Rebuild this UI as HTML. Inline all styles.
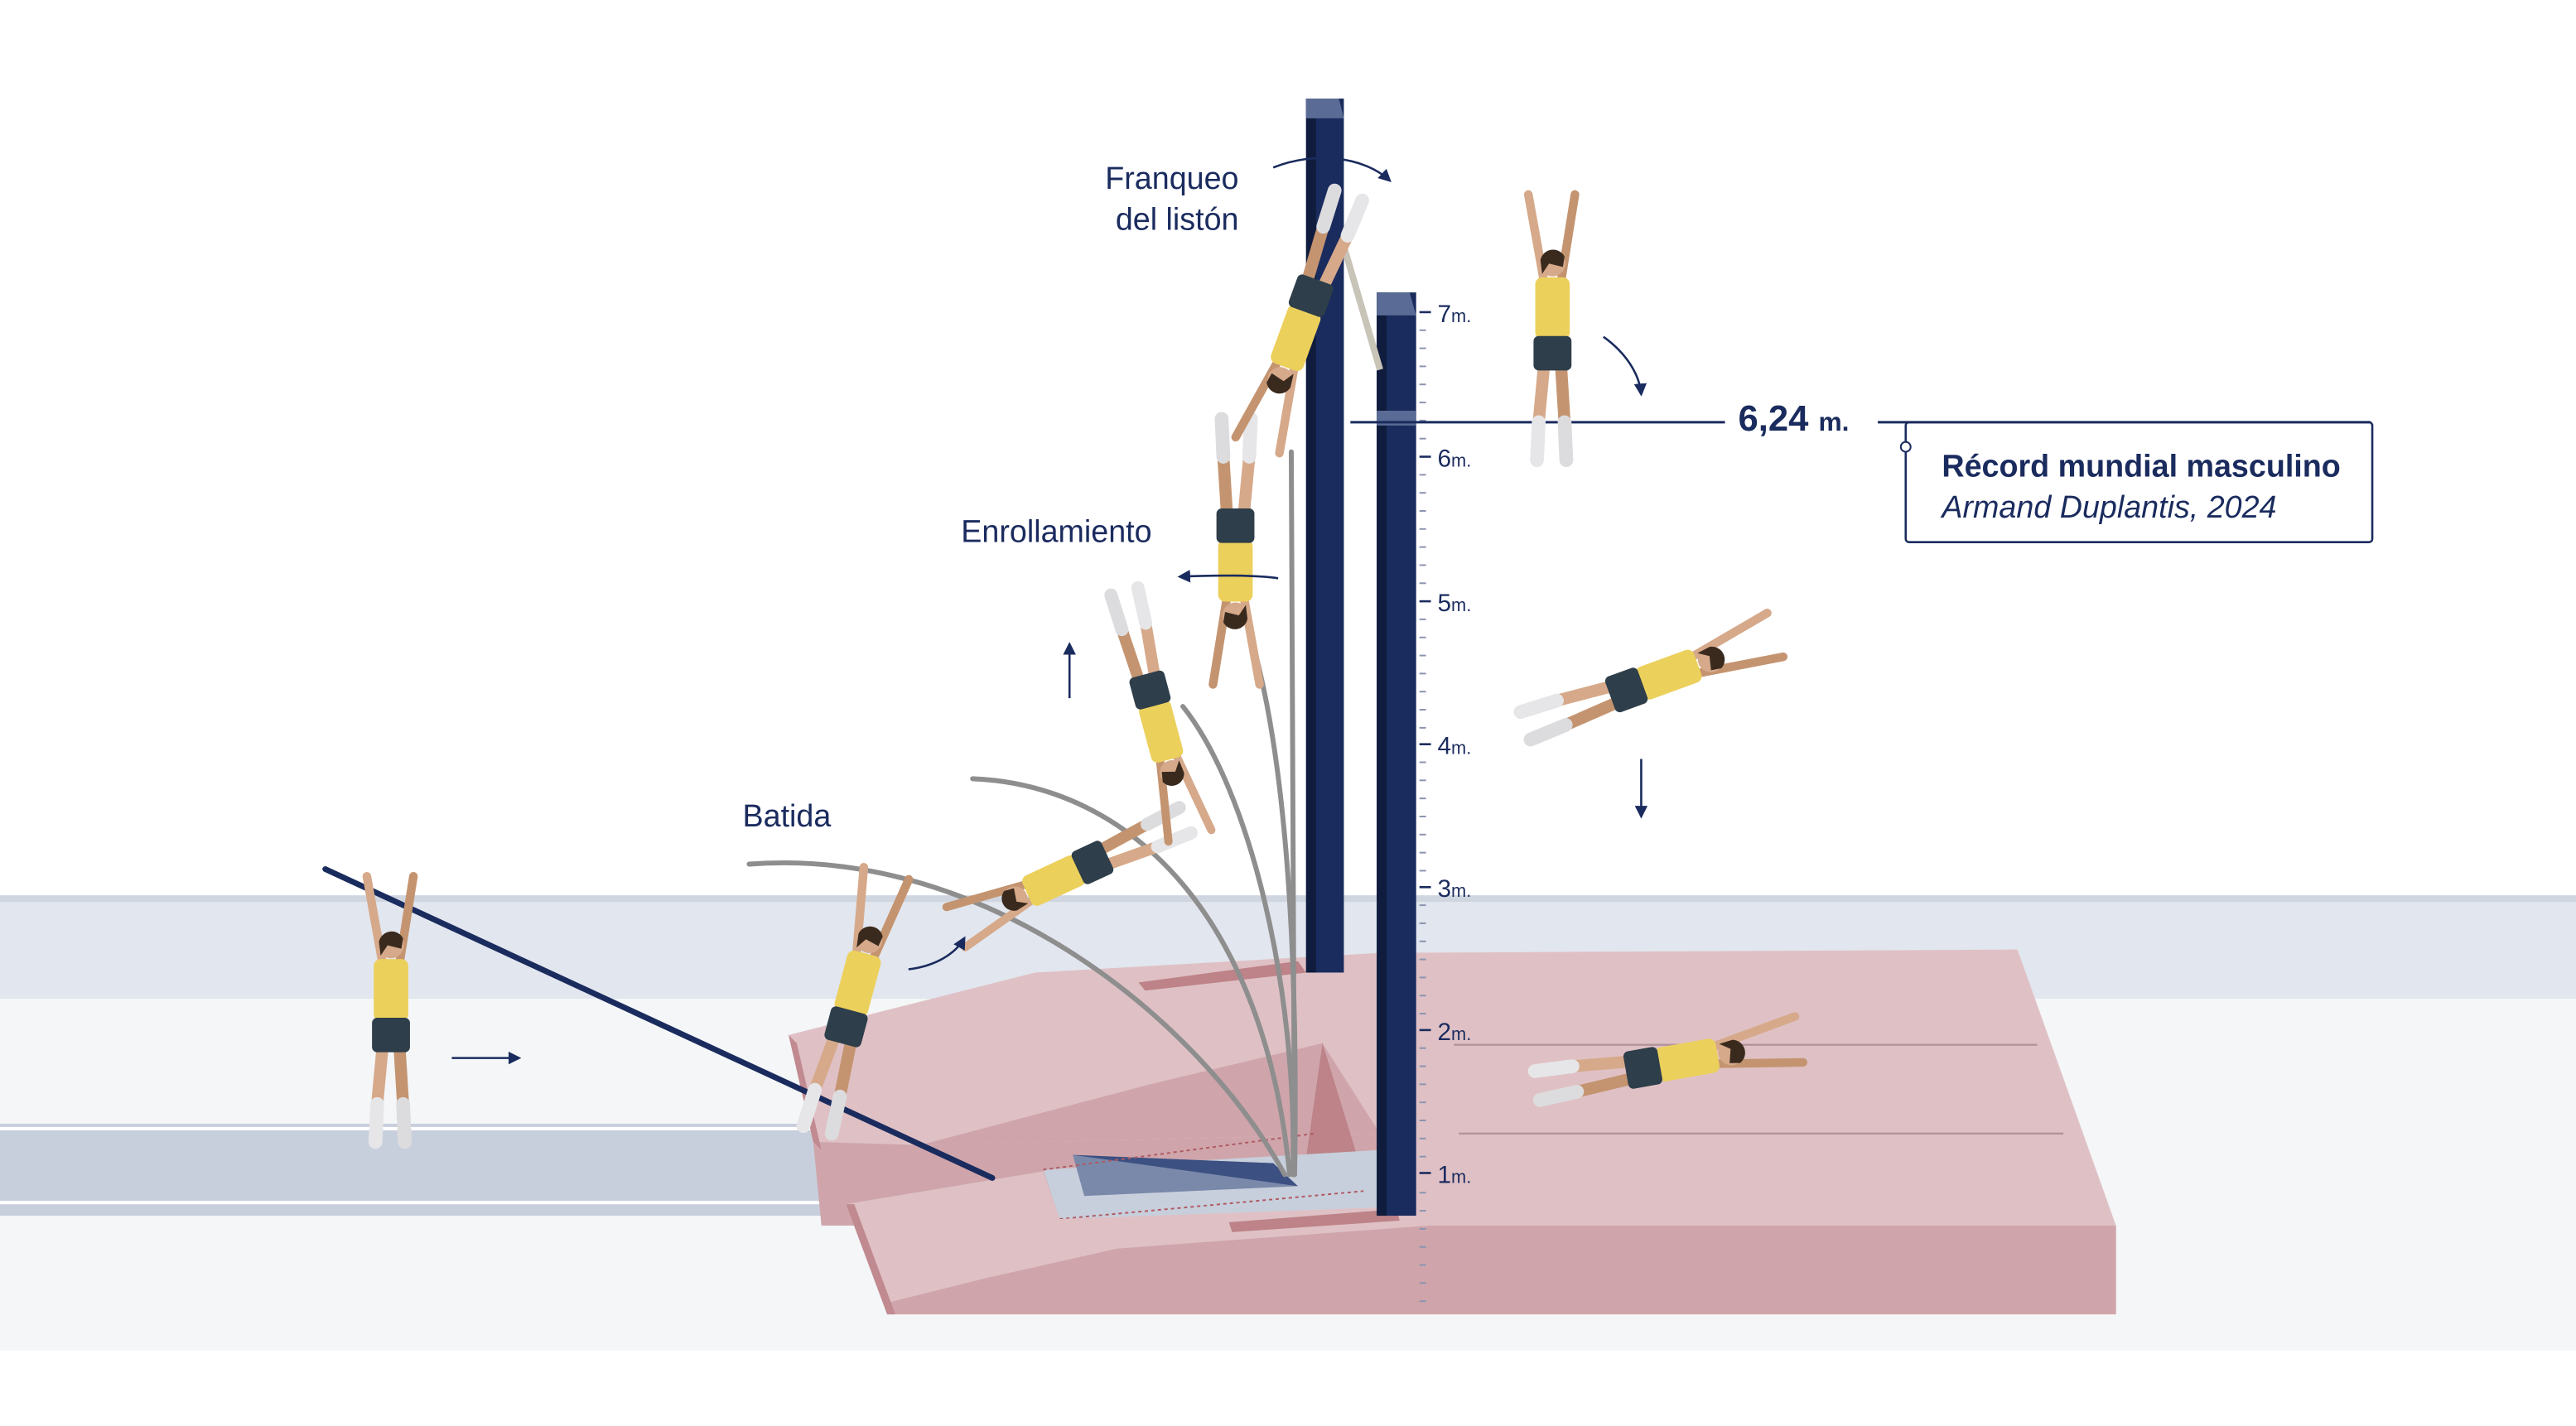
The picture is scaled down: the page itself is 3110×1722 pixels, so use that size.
<!DOCTYPE html>
<html><head><meta charset="utf-8"><style>
html,body{margin:0;padding:0;background:#fff;}
svg{display:block;}
text{font-family:"Liberation Sans",sans-serif;}
</style></head><body>
<svg width="3110" height="1722" viewBox="0 0 1568 868" preserveAspectRatio="none" xmlns="http://www.w3.org/2000/svg">
<defs>
<g id="fig">
  <line x1="-5" y1="-42" x2="-14" y2="-92" stroke="#d6a98a" stroke-width="5" stroke-linecap="round"/>
  <line x1="5" y1="-42" x2="13" y2="-92" stroke="#c49470" stroke-width="5" stroke-linecap="round"/>
  <line x1="-5" y1="8" x2="-8" y2="40" stroke="#d6a98a" stroke-width="7" stroke-linecap="round"/>
  <line x1="5" y1="8" x2="7" y2="40" stroke="#c49470" stroke-width="7" stroke-linecap="round"/>
  <line x1="-8" y1="40" x2="-9" y2="62" stroke="#e6e6e8" stroke-width="8" stroke-linecap="round"/>
  <line x1="7" y1="40" x2="8" y2="62" stroke="#dcdcde" stroke-width="8" stroke-linecap="round"/>
  <rect x="-10" y="-44" width="20" height="36" rx="4" fill="#ecd05c"/>
  <rect x="-11" y="-10" width="22" height="20" rx="3" fill="#2e3e4a"/>
  <circle cx="0" cy="-52" r="7.5" fill="#d6a98a"/>
  <path d="M-7,-54 A7.5,7.5 0 0 1 7,-56 L6,-50 L-2,-52 L-6,-46 Z" fill="#3a2a1e"/>
</g>
<marker id="ah" markerWidth="6" markerHeight="6" refX="5" refY="3" orient="auto"><path d="M0,0 L6,3 L0,6 Z" fill="#1a2b5e"/></marker>
</defs>

<rect x="0" y="545" width="1568" height="63" fill="#e2e6ee"/>
<rect x="0" y="545" width="1568" height="4" fill="#d0d6e0"/>
<rect x="0" y="608" width="1568" height="214" fill="#f4f6f8"/>
<rect x="0" y="684" width="650" height="56" fill="#c8cfdc"/>
<rect x="0" y="686" width="650" height="2" fill="#ffffff"/>
<rect x="0" y="731" width="650" height="2" fill="#ffffff"/>

<polygon points="480,630 630,592 840,580 1228,578 1288,746 840,746 840,690 560,697 495,695" fill="#dfc1c5"/>
<polygon points="495,695 560,697 840,690 840,746 500,746" fill="#cfa5ab"/>
<polygon points="560,697 700,660 805,635 840,690" fill="#cfa5ab"/>
<polygon points="480,630 495,695 500,700 485,635" fill="#c08a90"/>
<polygon points="805,635 825,700 840,746 790,740" fill="#bd8388"/>
<polygon points="693,598 790,585 795,592 697,603" fill="#bd8388"/>
<polygon points="635,712 840,700 840,740 645,742" fill="#c8cfdc"/>
<polygon points="653,703 775,708 790,722 660,728" fill="#7a89aa"/>
<polygon points="653,703 790,722 775,708" fill="#3c5082"/>
<polyline points="635,712 800,690" fill="none" stroke="#b05a62" stroke-width="1" stroke-dasharray="2,2"/>
<polyline points="645,742 830,725" fill="none" stroke="#b05a62" stroke-width="1" stroke-dasharray="2,2"/>
<polygon points="515,733 635,713 645,742 840,735 882,734 882,746 1288,746 1288,800 540,800" fill="#dfc1c5"/>
<polygon points="540,800 540,793 600,778 680,760 870,746 1288,746 1288,800" fill="#cfa5ab"/>
<polygon points="515,733 540,800 545,800 520,733" fill="#c08a90"/>
<polygon points="748,744 850,736 852,743 750,750" fill="#bd8388"/>
<line x1="885" y1="636" x2="1240" y2="636" stroke="#b0949a" stroke-width="1.2"/>
<line x1="888" y1="690" x2="1256" y2="690" stroke="#b0949a" stroke-width="1.2"/>

<rect x="795" y="60" width="23" height="532" fill="#1a2b5e"/>
<rect x="795" y="60" width="6" height="532" fill="#0f1c3d"/>
<polygon points="795,60 815,60 818,72 795,72" fill="#5a6b95"/>
<rect x="838" y="178" width="24" height="562" fill="#1a2b5e"/>
<rect x="838" y="178" width="6" height="562" fill="#0f1c3d"/>
<polygon points="838,178 858,178 862,192 838,192" fill="#5a6b95"/>
<rect x="838" y="250" width="24" height="9" fill="#5a6b95"/>

<g stroke="#8a94b0" stroke-width="1">
<line x1="864" y1="201" x2="868" y2="201"/><line x1="864" y1="212" x2="868" y2="212"/><line x1="864" y1="223" x2="868" y2="223"/><line x1="864" y1="234" x2="868" y2="234"/><line x1="864" y1="245" x2="868" y2="245"/><line x1="864" y1="256" x2="868" y2="256"/><line x1="864" y1="267" x2="868" y2="267"/>
<line x1="864" y1="289" x2="868" y2="289"/><line x1="864" y1="300" x2="868" y2="300"/><line x1="864" y1="311" x2="868" y2="311"/><line x1="864" y1="322" x2="868" y2="322"/><line x1="864" y1="333" x2="868" y2="333"/><line x1="864" y1="344" x2="868" y2="344"/><line x1="864" y1="355" x2="868" y2="355"/>
<line x1="864" y1="377" x2="868" y2="377"/><line x1="864" y1="388" x2="868" y2="388"/><line x1="864" y1="399" x2="868" y2="399"/><line x1="864" y1="410" x2="868" y2="410"/><line x1="864" y1="421" x2="868" y2="421"/><line x1="864" y1="432" x2="868" y2="432"/><line x1="864" y1="443" x2="868" y2="443"/>
<line x1="864" y1="464" x2="868" y2="464"/><line x1="864" y1="475" x2="868" y2="475"/><line x1="864" y1="486" x2="868" y2="486"/><line x1="864" y1="497" x2="868" y2="497"/><line x1="864" y1="508" x2="868" y2="508"/><line x1="864" y1="519" x2="868" y2="519"/><line x1="864" y1="530" x2="868" y2="530"/>
<line x1="864" y1="551" x2="868" y2="551"/><line x1="864" y1="562" x2="868" y2="562"/><line x1="864" y1="573" x2="868" y2="573"/><line x1="864" y1="584" x2="868" y2="584"/><line x1="864" y1="595" x2="868" y2="595"/><line x1="864" y1="606" x2="868" y2="606"/><line x1="864" y1="617" x2="868" y2="617"/>
<line x1="864" y1="638" x2="868" y2="638"/><line x1="864" y1="649" x2="868" y2="649"/><line x1="864" y1="660" x2="868" y2="660"/><line x1="864" y1="671" x2="868" y2="671"/><line x1="864" y1="682" x2="868" y2="682"/><line x1="864" y1="693" x2="868" y2="693"/><line x1="864" y1="704" x2="868" y2="704"/>
<line x1="864" y1="726" x2="868" y2="726"/><line x1="864" y1="737" x2="868" y2="737"/><line x1="864" y1="748" x2="868" y2="748"/><line x1="864" y1="759" x2="868" y2="759"/><line x1="864" y1="770" x2="868" y2="770"/><line x1="864" y1="781" x2="868" y2="781"/><line x1="864" y1="792" x2="868" y2="792"/>
</g>
<g stroke="#1a2b5e" stroke-width="1.3">
<line x1="864" y1="190" x2="871" y2="190"/><line x1="864" y1="278" x2="871" y2="278"/><line x1="864" y1="366" x2="871" y2="366"/><line x1="864" y1="453" x2="871" y2="453"/><line x1="864" y1="540" x2="871" y2="540"/><line x1="864" y1="627" x2="871" y2="627"/><line x1="864" y1="714" x2="871" y2="714"/>
</g>
<g fill="#1a2b5e" font-size="15">
<text x="875" y="196">7<tspan font-size="11">m.</tspan></text>
<text x="875" y="284">6<tspan font-size="11">m.</tspan></text>
<text x="875" y="372">5<tspan font-size="11">m.</tspan></text>
<text x="875" y="459">4<tspan font-size="11">m.</tspan></text>
<text x="875" y="546">3<tspan font-size="11">m.</tspan></text>
<text x="875" y="633">2<tspan font-size="11">m.</tspan></text>
<text x="875" y="720">1<tspan font-size="11">m.</tspan></text>
</g>

<line x1="822" y1="257" x2="1050" y2="257" stroke="#1a2b5e" stroke-width="1.5"/>
<text x="1058" y="262" font-size="22" font-weight="bold" fill="#1a2b5e">6,24 <tspan font-size="16">m.</tspan></text>
<line x1="1143" y1="257" x2="1443" y2="257" stroke="#1a2b5e" stroke-width="1.5"/>
<rect x="1160" y="257" width="284" height="73" rx="2" fill="none" stroke="#1a2b5e" stroke-width="1.3"/>
<circle cx="1160" cy="272" r="3" fill="#fff" stroke="#1a2b5e" stroke-width="1"/>
<text x="1182" y="290" font-size="19" font-weight="bold" fill="#1a2b5e">Récord mundial masculino</text>
<text x="1182" y="315" font-size="19" font-style="italic" fill="#1a2b5e">Armand Duplantis, 2024</text>

<g font-size="19" fill="#1a2b5e">
<text x="754" y="115" text-anchor="end">Franqueo</text>
<text x="754" y="140" text-anchor="end">del listón</text>
<text x="585" y="330">Enrollamiento</text>
<text x="452" y="503">Batida</text>
</g>

<g fill="none" stroke="#8e8e8e" stroke-width="3" stroke-linecap="round">
<path d="M456,526 C600,515 730,620 782,715"/>
<path d="M592,474 C690,478 770,560 785,715"/>
<path d="M720,430 C760,480 790,600 787,715"/>
<path d="M762,390 C785,470 790,600 788,715"/>
<path d="M786,275 L788,715"/>
</g>
<line x1="818" y1="150" x2="840" y2="225" stroke="#c8c4b8" stroke-width="4"/>
<line x1="198" y1="529" x2="604" y2="717" stroke="#1a2b5e" stroke-width="3.5" stroke-linecap="round"/>

<use href="#fig" transform="translate(238,630) scale(1.05)"/>
<use href="#fig" transform="translate(515,625) rotate(15) scale(1.05)"/>
<use href="#fig" transform="translate(665,525) rotate(-115) scale(1)"/>
<use href="#fig" transform="translate(700,420) rotate(165) scale(1)"/>
<use href="#fig" transform="translate(752,320) rotate(180) scale(1.05)"/>
<use href="#fig" transform="translate(798,180) rotate(200) scale(1.05)"/>
<use href="#fig" transform="translate(945,215) scale(1.05)"/>
<use href="#fig" transform="translate(990,420) rotate(70) scale(1.05)"/>
<use href="#fig" transform="translate(1000,650) rotate(80) scale(1.05)"/>

<g fill="none" stroke="#1a2b5e" stroke-width="1.3" marker-end="url(#ah)">
<line x1="275" y1="644" x2="316" y2="644"/>
<path d="M553,590 C570,588 582,580 587,571"/>
<line x1="651" y1="425" x2="651" y2="392"/>
<path d="M778,352 C765,350 740,350 718,351"/>
<path d="M775,102 C800,92 830,95 846,110"/>
<path d="M976,205 C990,215 998,228 999,240"/>
<line x1="999" y1="462" x2="999" y2="497"/>
</g>
</svg>
</body></html>
